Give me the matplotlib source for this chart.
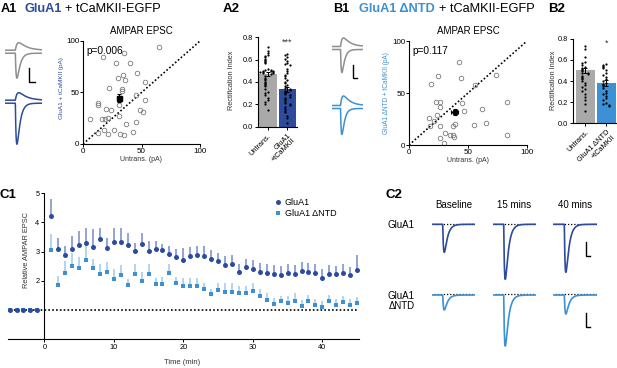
import numpy as np
import matplotlib.pyplot as plt
from matplotlib.lines import Line2D

plt.rcParams['font.family'] = ['Liberation Sans', 'DejaVu Sans']
plt.rcParams['axes.linewidth'] = 0.8

W, H = 617, 368
DARK = '#2c4b9e'
LIGHT = '#3b90d6'
BAR_GRAY = '#a9a9a9'
TRACE_GRAY = '#8e8e8e'

# A1: EPSC amplitude (pA), untransfected vs GluA1 + tCaMKII
a1_untrans = [65, 17, 35, 28, 40, 46, 34, 30, 36, 53, 22, 33, 33.6, 45, 53, 13, 13, 20,
              23.6, 31, 49, 51, 30.5, 16, 18.5, 21, 5.7, 45, 36.5, 18, 26.5, 12.8, 21, 32,
              34.7, 42.7]
a1_glua1 = [94.5, 84, 88, 79, 79, 69, 67, 64, 62, 60.5, 54, 53, 51, 48, 43, 39.5, 38, 34,
            33, 38, 33, 31, 27.5, 24.6, 24.6, 25, 24, 21.7, 19, 13.6, 14, 11, 9.4, 10,
            9, 11.3]
a1_mean = [31, 45]
a1_sem = [2, 4]

# B1: EPSC amplitude (pA), untransfected vs GluA1 dNTD + tCaMKII
b1_untrans = [42.4, 24.6, 44, 19, 55.6, 74, 23, 26, 26, 45, 83, 62, 46.6, 16.7, 24, 21,
              18, 26.5, 37.6, 39, 55, 65, 30.8, 34.7, 37.6, 38, 26.5, 30, 83]
b1_dntd = [79.5, 66, 64.7, 59, 58, 67, 41.7, 41, 37, 40, 41, 35, 33, 26, 29, 23, 18.6,
           18.6, 18.6, 20, 19, 21.5, 12, 9.6, 10, 7.4, 7, 2.2, 9.6]
b1_mean = [38.7, 31.4]
b1_sem = [3, 3]

# A2 / B2: rectification index
a2_untrans = [0.71, 0.68, 0.66, 0.64, 0.63, 0.62, 0.61, 0.60, 0.59, 0.58, 0.57, 0.52, 0.51,
              0.51, 0.50, 0.50, 0.50, 0.49, 0.49, 0.49, 0.48, 0.48, 0.47, 0.45, 0.44, 0.43,
              0.42, 0.40, 0.39, 0.38, 0.37, 0.36, 0.34, 0.31, 0.30, 0.28, 0.26, 0.24, 0.22,
              0.20, 0.15]
a2_glua1 = [0.65, 0.64, 0.62, 0.61, 0.59, 0.57, 0.56, 0.55, 0.52, 0.50, 0.48, 0.46, 0.45,
            0.44, 0.42, 0.40, 0.39, 0.37, 0.36, 0.35, 0.34, 0.33, 0.32, 0.31, 0.30, 0.29,
            0.28, 0.27, 0.26, 0.25, 0.24, 0.22, 0.21, 0.20, 0.19, 0.18, 0.16, 0.14, 0.13,
            0.10, 0.08, 0.03]
a2_means = [0.47, 0.335]
a2_sems = [0.02, 0.022]
b2_untrans = [0.73, 0.70, 0.63, 0.58, 0.57, 0.55, 0.53, 0.52, 0.51, 0.50, 0.49, 0.48, 0.48,
              0.47, 0.45, 0.44, 0.43, 0.42, 0.40, 0.38, 0.36, 0.34, 0.32, 0.31, 0.28, 0.25,
              0.22, 0.18, 0.12]
b2_dntd = [0.56, 0.55, 0.54, 0.53, 0.52, 0.50, 0.48, 0.46, 0.44, 0.42, 0.40, 0.38, 0.37,
           0.36, 0.35, 0.33, 0.31, 0.29, 0.28, 0.26, 0.24, 0.22, 0.19, 0.18, 0.17, 0.16]
b2_means = [0.50, 0.38]
b2_sems = [0.025, 0.025]

# C1: relative AMPAR EPSC over time
time_min = [-5, -4, -3, -2, -1] + list(range(1, 46))
glua1_rel = [1.01, 0.98, 1.0, 0.99, 1.0,
             4.22, 3.08, 2.88, 3.08, 3.21, 3.31, 3.17, 3.42, 3.11, 3.34,
             3.34, 3.24, 3.03, 3.27, 3.02, 3.09, 3.04, 2.91, 2.83, 2.71,
             2.84, 2.87, 2.85, 2.74, 2.66, 2.54, 2.59, 2.29, 2.46, 2.40,
             2.30, 2.27, 2.24, 2.19, 2.26, 2.23, 2.32, 2.30, 2.26, 2.11,
             2.23, 2.22, 2.26, 2.18, 2.37]
glua1_err = [0.03, 0.03, 0.03, 0.03, 0.03,
             0.57, 0.38, 0.31, 0.46, 0.50, 0.49, 0.60, 0.40, 0.37, 0.46,
             0.46, 0.39, 0.25, 0.36, 0.34, 0.27, 0.23, 0.29, 0.25, 0.40,
             0.33, 0.33, 0.33, 0.32, 0.29, 0.32, 0.30, 0.27, 0.29, 0.31,
             0.30, 0.30, 0.30, 0.30, 0.30, 0.30, 0.32, 0.30, 0.30, 0.30,
             0.30, 0.30, 0.30, 0.30, 0.50]
dntd_rel = [1.0, 0.99, 1.0, 1.0, 1.0,
            3.05, 1.86, 2.28, 2.51, 2.42, 2.70, 2.42, 2.22, 2.30, 2.06,
            2.20, 1.86, 2.22, 1.99, 2.22, 1.89, 1.89, 2.26, 1.91, 1.83,
            1.82, 1.83, 1.72, 1.55, 1.67, 1.63, 1.63, 1.59, 1.58, 1.66,
            1.49, 1.34, 1.19, 1.29, 1.24, 1.31, 1.12, 1.31, 1.17, 1.11,
            1.31, 1.17, 1.26, 1.17, 1.23]
dntd_err = [0.03, 0.03, 0.03, 0.03, 0.03,
            0.54, 0.30, 0.38, 0.43, 0.38, 0.52, 0.33, 0.34, 0.33, 0.34,
            0.34, 0.20, 0.34, 0.30, 0.35, 0.22, 0.24, 0.32, 0.23, 0.25,
            0.26, 0.28, 0.20, 0.17, 0.24, 0.28, 0.28, 0.24, 0.25, 0.25,
            0.23, 0.23, 0.21, 0.19, 0.24, 0.26, 0.21, 0.21, 0.20, 0.20,
            0.20, 0.20, 0.20, 0.20, 0.20]

# example traces, peak sizes in pixels: A1 gray, A1 blue, B1 gray, B1 blue
iv_outward = [7.5, 7.5, 8.5, 9.5]
iv_inward = [25, 41, 23, 26]
# C2 traces: Baseline, 15 mins, 40 mins
c2_cols = ['Baseline', '15 mins', '40 mins']
c2_glua1_amp = [28, 55, 48]
c2_dntd_amp = [15, 51, 19]

fig = plt.figure(figsize=(W / 100, H / 100), dpi=100)


def box(x0, y0, x1, y1):
    return fig.add_axes([x0 / W, 1 - y1 / H, (x1 - x0) / W, (y1 - y0) / H])


def ftext(x, y, s, **kw):
    return fig.text(x / W, 1 - y / H, s, **kw)


def style_ticks(ax, size=5.5, length=2.5, pad=1.0):
    for s in ['top', 'right']:
        ax.spines[s].set_visible(False)
    ax.tick_params(labelsize=size, length=length, width=0.7, pad=pad, direction='out')


def epsc(t, amp, onset, tr, td):
    s = np.clip(t - onset, 0, None)
    w = np.exp(-s / td) - np.exp(-s / tr)
    return amp * w / w.max()


def trace_ax(x0, x1, y_top, y_bot, base):
    ax = box(x0, y_top, x1, y_bot)
    ax.set_xlim(0, 1)
    ax.set_ylim(-(y_bot - base), base - y_top)
    ax.axis('off')
    return ax


def scale_bar(ax, x, y_top, y_bot, x_len):
    ax.plot([x, x, x + x_len], [y_top, y_bot, y_bot], color='k', lw=1.0,
            solid_joinstyle='miter')


def title_parts(x, y, parts, size=9.2):
    r = fig.canvas.get_renderer()
    for s, c, w, gap in parts:
        t = ftext(x, y, s, color=c, fontweight=w, fontsize=size, va='baseline')
        x += t.get_window_extent(renderer=r).width + gap


def swarm(vals, center, step=0.14, thresh=0.02):
    xs, placed = [], []
    for v in vals:
        n = sum(1 for p in placed if abs(p - v) < thresh)
        k = (n + 1) // 2
        sign = -1 if n % 2 else 1
        xs.append(center + sign * k * step)
        placed.append(v)
    return xs


# ---------- titles ----------
title_parts(1, 12, [('A1', 'k', 'bold', 7), ('GluA1', DARK, 'bold', 3.5),
                    ('+ tCaMKII-EGFP', 'k', 'normal', 0)])
title_parts(333, 12, [('B1', 'k', 'bold', 10), ('GluA1 \u0394NTD', LIGHT, 'bold', 3.5),
                      ('+ tCaMKII-EGFP', 'k', 'normal', 0)])
ftext(223, 12.5, 'A2', fontsize=9.5, fontweight='bold', va='baseline')
ftext(548, 12.5, 'B2', fontsize=9.5, fontweight='bold', va='baseline')
ftext(0, 198, 'C1', fontsize=9.5, fontweight='bold', va='baseline')
ftext(385, 198, 'C2', fontsize=9.5, fontweight='bold', va='baseline')


# ---------- scatter panels ----------
def scatter_panel(ax, xs, ys, mean, sem, mk, ptxt):
    ax.plot([0, 100], [0, 100], color='k', lw=1.2, ls=(0, (1, 1.3)))
    ax.plot(xs, ys, 'o', mfc='none', mec='#7a7a7a', ms=3.3, mew=0.6, clip_on=False)
    ax.errorbar(mean[0], mean[1], xerr=sem[0], yerr=sem[1], fmt=mk, color='k', ms=3.6,
                elinewidth=0.8, capsize=1.5, capthick=0.8)
    ax.set_xlim(0, 100)
    ax.set_ylim(0, 100)
    ax.set_xticks([0, 50, 100])
    ax.set_yticks([0, 50, 100])
    style_ticks(ax, size=5.8, length=2, pad=0.6)
    ax.text(0.03, 0.955, ptxt, transform=ax.transAxes, fontsize=7.3, va='top')
    ax.set_title('AMPAR EPSC', fontsize=7, pad=5)
    ax.set_xlabel('Untrans. (pA)', fontsize=5, color='#333333', labelpad=1)


ax = box(83, 41, 200, 144)
scatter_panel(ax, a1_untrans, a1_glua1, a1_mean, a1_sem, 's', 'p=0.006')
ftext(62, 88, 'GluA1 + tCaMKII (pA)', fontsize=4.6, color=DARK, rotation=90,
      ha='center', va='center')

ax = box(409, 41, 527, 145)
scatter_panel(ax, b1_untrans, b1_dntd, b1_mean, b1_sem, 'o', 'p=0.117')
ftext(387, 93, 'GluA1 \u0394NTD + tCaMKII (pA)', fontsize=4.7, color=LIGHT, rotation=90,
      ha='center', va='center')


# ---------- bar panels ----------
def bar_panel(ax, groups, means, sems, colors, labels, star, width):
    for i, vals in enumerate(groups):
        ax.bar(i, means[i], width=width, color=colors[i], zorder=1)
        ax.errorbar(i, means[i], yerr=sems[i], color='k', lw=0.7, capsize=1.5,
                    capthick=0.7, zorder=2)
        ax.plot(swarm(vals, i), vals, 'o', color='k', ms=1.6, mew=0, zorder=3)
    ax.set_ylim(0, 0.8)
    ax.set_yticks([0, 0.2, 0.4, 0.6, 0.8])
    ax.set_yticklabels(['0.0', '0.2', '0.4', '0.6', '0.8'])
    ax.set_xticks([0, 1])
    ax.set_xticklabels(labels, rotation=45, ha='right', rotation_mode='anchor',
                       fontsize=5, linespacing=1.0)
    style_ticks(ax, size=5.3, length=2.5, pad=1.2)
    ax.tick_params(axis='x', pad=1.5)
    ax.text(1, 0.755, star, ha='center', va='center', fontsize=6.5, color='#333333')


ax = box(258, 37.3, 297, 126.7)
bar_panel(ax, [a2_untrans, a2_glua1], a2_means, a2_sems, [BAR_GRAY, DARK],
          ['Untrans.', 'GluA1\n+tCaMKII'], '***', 0.9)
ax.set_xlim(-0.52, 1.51)
ftext(231.7, 80, 'Rectification Index', fontsize=5.3, rotation=90, ha='center',
      va='center', color='#333333')

ax = box(573, 38.7, 617, 123.3)
bar_panel(ax, [b2_untrans, b2_dntd], b2_means, b2_sems, [BAR_GRAY, LIGHT],
          ['Untrans.', 'GluA1 \u0394NTD\n+tCaMKII'], '*', 0.92)
ax.set_xlim(-0.58, 1.5)
ftext(553.3, 80, 'Rectification Index', fontsize=5.3, rotation=90, ha='center',
      va='center', color='#333333')

# ---------- A1 / B1 example traces ----------
t = np.linspace(0, 1, 300)
trace_cells = [(5, 42, 51.7, TRACE_GRAY), (5, 42, 101.7, DARK),
               (331.7, 363.3, 48, TRACE_GRAY), (331.7, 363.3, 107, LIGHT)]
for i, (x0, x1, base, col) in enumerate(trace_cells):
    tax = trace_ax(x0, x1, base - 14, base + 44, base)
    tax.plot(t, 1.5 + epsc(t, iv_outward[i], 0.28, 0.05, 0.2), color=col, lw=1.1)
    tax.plot(t, -1.5 - epsc(t, iv_inward[i], 0.28, 0.025, 0.08), color=col, lw=1.1)
    if col == TRACE_GRAY:
        scale_bar(tax, 0.66, -16.5, -30, 0.15)

# ---------- C1 time course ----------
ax = box(7.5, 193.3, 358.5, 339)
ax.plot([time_min[0], time_min[-1]], [1, 1], color='k', lw=1.2, ls=(0, (1, 1.3)), zorder=1)
ax.vlines(time_min, glua1_rel, np.add(glua1_rel, glua1_err), color='#8094d0', lw=1.2,
          zorder=2)
ax.vlines(time_min, dntd_rel, np.add(dntd_rel, dntd_err), color='#a6cdef', lw=1.2, zorder=2)
ax.plot(time_min, glua1_rel, 'o', color=DARK, ms=3.6, mew=0, zorder=4, clip_on=False)
ax.plot(time_min, dntd_rel, 's', color=LIGHT, ms=3.4, mew=0, zorder=3, clip_on=False)
ax.set_xlim(-5.3, 45.2)
ax.set_ylim(0, 5)
ax.spines['left'].set_position(('data', 0))
ax.set_xticks([0, 10, 20, 30, 40])
ax.set_yticks([2, 3, 4, 5])
style_ticks(ax, size=5.3, length=2.5, pad=1.0)
ftext(26.7, 250, 'Relative AMPAR EPSC', fontsize=5.3, rotation=90, ha='center',
      va='center', color='#333333')
ftext(181.7, 363, 'Time (min)', fontsize=5.5, ha='center', va='center', color='#333333')
handles = [Line2D([], [], ls='none', marker='o', color=DARK, ms=3.6, mew=0),
           Line2D([], [], ls='none', marker='s', color=LIGHT, ms=3.4, mew=0)]
fig.legend(handles, ['GluA1', 'GluA1 \u0394NTD'], loc='upper left',
           bbox_to_anchor=(274 / W, 1 - 198 / H), frameon=False, fontsize=6.5,
           handlelength=0.8, handletextpad=0.4, labelspacing=0.25, borderpad=0,
           borderaxespad=0)

# ---------- C2 traces ----------
col_x = [431.7, 492.7, 553.3]
for j, name in enumerate(c2_cols):
    ftext(col_x[j] + 21.7, 207.7, name, fontsize=7, ha='center', va='baseline')
ftext(415, 228.3, 'GluA1', fontsize=7, ha='right', va='baseline')
ftext(415, 301, 'GluA1\n\u0394NTD', fontsize=7, ha='right', va='center', linespacing=1.1,
      multialignment='right')
for base, amps, col in [(224.3, c2_glua1_amp, DARK), (295, c2_dntd_amp, LIGHT)]:
    for j in range(3):
        tax = trace_ax(col_x[j], col_x[j] + 43.3, base - 4, base + 60, base)
        tax.plot([0.05, 1], [0.8, 0.8], color='k', lw=0.9, ls=(0, (1, 1.5)))
        tax.plot(t, -epsc(t, amps[j], 0.255, 0.02, 0.07), color=col, lw=1.2)
        if j == 2:
            scale_bar(tax, 0.75, -18, -31.5, 0.1)

fig.savefig('out.png', dpi=100)
